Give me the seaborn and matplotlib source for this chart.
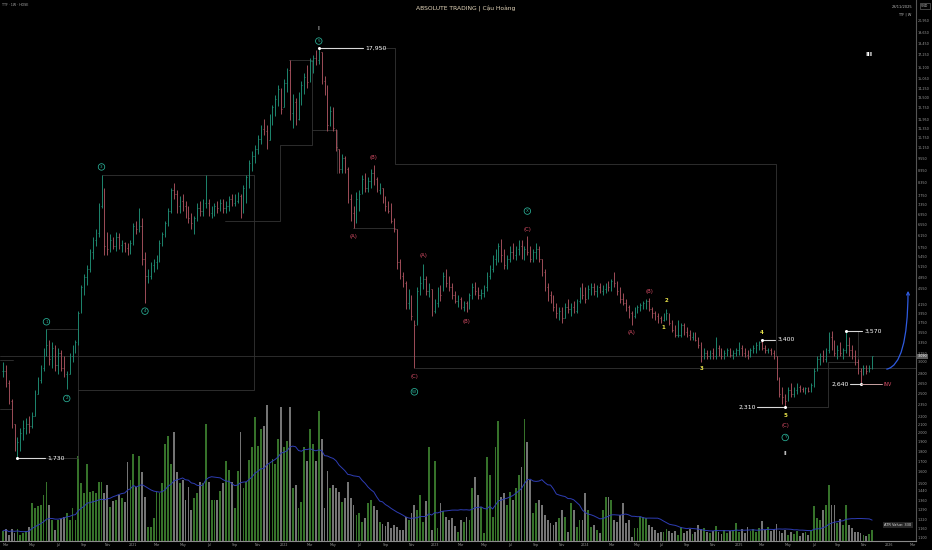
import numpy as np
import pandas as pd
import seaborn as sns
import matplotlib.pyplot as plt
import matplotlib.dates as mdates
import matplotlib.transforms as mtransforms
from matplotlib.collections import LineCollection
from matplotlib.ticker import FixedLocator, NullLocator, FuncFormatter

# ---------------------------------------------------------------------------
# Weekly TTF (HOSE) bars: 24 Feb 2020 -> 24 Nov 2025
# ---------------------------------------------------------------------------
first_week = "2020-02-24"

highs = [
    3000, 2950, 2700, 2420, 2100, 1950, 2050, 2150, 2180, 2200,
    2250, 2550, 2750, 2950, 3250, 3620, 3400, 3350, 3300, 3250,
    3200, 3100, 2850, 3150, 3300, 3400, 4000, 4650, 4950, 5200,
    5700, 6100, 6400, 7400, 8700, 8100, 6300, 6200, 6100, 6300,
    6250, 6000, 5950, 5900, 6000, 6600, 6700, 7200, 6800, 5600,
    5100, 5300, 5400, 5500, 6000, 6300, 6700, 7200, 8100, 8300,
    8000, 7700, 7800, 7500, 7300, 7000, 6900, 7400, 7500, 7600,
    8700, 7600, 7300, 7400, 7500, 7600, 7600, 7500, 7700, 7800,
    7800, 7900, 7800, 8200, 8700, 9500, 10000, 10300, 10900, 11600,
    12000, 11600, 12300, 13000, 13700, 14500, 14300, 15000, 16000, 16760,
    13800, 13500, 14000, 14900, 15600, 16300, 17000, 17250, 17700, 17950,
    17540, 15300, 14500, 12900, 12800, 11300, 10100, 9800, 9700, 9100,
    7800, 7300, 7900, 8000, 8700, 8800, 8600, 9000, 9200, 8600,
    8300, 8100, 7700, 7500, 7400, 6800, 6400, 5400, 5000, 4750,
    4550, 4400, 3800, 4600, 4900, 5240, 4900, 4700, 4550, 4300,
    4600, 4650, 5000, 5100, 4900, 4700, 4500, 4400, 4350, 4250,
    4250, 4450, 4700, 4720, 4600, 4550, 4650, 5000, 5200, 5500,
    5700, 5900, 6050, 5700, 5500, 5800, 5900, 5800, 6000, 6000,
    5800, 6140, 5800, 5700, 5900, 5800, 5400, 5100, 4700, 4500,
    4400, 4200, 4100, 4100, 4200, 4300, 4200, 4250, 4300, 4600,
    4700, 4600, 4650, 4700, 4700, 4650, 4700, 4650, 4700, 4750,
    4800, 5000, 4750, 4600, 4450, 4300, 4150, 4000, 4100, 4150,
    4200, 4250, 4300, 4310, 4100, 4000, 3950, 3900, 3950, 4050,
    3950, 3800, 3700, 3800, 3750, 3750, 3650, 3600, 3550, 3550,
    3450, 3350, 3250, 3200, 3200, 3250, 3450, 3300, 3250, 3200,
    3250, 3250, 3200, 3250, 3350, 3300, 3250, 3200, 3250, 3300,
    3350, 3380, 3400, 3300, 3250, 3250, 3200, 3100, 2750, 2600,
    2500, 2600, 2650, 2600, 2650, 2620, 2600, 2600, 2600, 2650,
    2900, 3100, 3150, 3200, 3250, 3550, 3570, 3400, 3300, 3350,
    3250, 3570, 3450, 3300, 3200, 3050, 2900, 2950, 2950, 2950,
    3090,
]

lows = [
    2750, 2600, 2350, 2050, 1800, 1730, 1800, 1920, 1980, 2000,
    2050, 2200, 2500, 2650, 2850, 3100, 2950, 2900, 2850, 2800,
    2850, 2750, 2560, 2800, 3000, 3150, 3300, 3950, 4400, 4650,
    5000, 5400, 5800, 6100, 7200, 5500, 5500, 5600, 5700, 5650,
    5700, 5600, 5600, 5500, 5550, 5850, 6200, 6300, 5200, 4190,
    4700, 4800, 5000, 5100, 5300, 5800, 6100, 6500, 7000, 7600,
    7000, 7000, 7100, 6800, 6600, 6400, 6200, 6700, 6900, 6900,
    7200, 6900, 6800, 6900, 7000, 7100, 7000, 7000, 7100, 7300,
    7300, 7400, 6800, 7000, 7400, 8100, 8900, 9300, 9800, 10400,
    10900, 10100, 10600, 11600, 12200, 12900, 12300, 12800, 14000, 11900,
    11400, 11600, 11900, 13000, 13800, 14300, 14800, 15600, 16300, 16400,
    14600, 13700, 11200, 11500, 11200, 10000, 8800, 8800, 8800, 7400,
    6700, 6420, 6600, 7100, 7800, 7900, 7900, 8100, 8200, 7900,
    7800, 7400, 7100, 7000, 6600, 6300, 5100, 4800, 4600, 4050,
    4050, 3800, 2890, 3700, 4400, 4550, 4400, 4350, 3900, 3950,
    4100, 4250, 4500, 4600, 4500, 4300, 4200, 4100, 4050, 4000,
    3980, 4050, 4300, 4400, 4300, 4300, 4350, 4500, 4800, 5000,
    5200, 5300, 5300, 5100, 5100, 5300, 5400, 5350, 5500, 5400,
    5350, 5500, 5300, 5300, 5400, 5300, 4900, 4500, 4250, 4200,
    4000, 3850, 3800, 3750, 3850, 3950, 3900, 3950, 3950, 4200,
    4300, 4200, 4300, 4400, 4400, 4350, 4450, 4400, 4450, 4500,
    4500, 4600, 4400, 4200, 4150, 4000, 3850, 3700, 3850, 3950,
    4000, 4050, 4050, 4000, 3850, 3800, 3750, 3750, 3780, 3800,
    3700, 3550, 3450, 3450, 3450, 3500, 3450, 3400, 3400, 3380,
    3250, 3000, 3050, 3050, 3050, 3050, 3050, 3100, 3050, 3050,
    3100, 3080, 3050, 3100, 3120, 3100, 3080, 3050, 3080, 3150,
    3150, 3200, 3200, 3150, 3150, 3120, 3050, 2700, 2450, 2350,
    2310, 2400, 2450, 2450, 2500, 2520, 2520, 2500, 2520, 2520,
    2600, 2850, 2950, 3000, 3000, 3150, 3200, 3100, 3050, 3100,
    3050, 3150, 3100, 3050, 2950, 2800, 2640, 2780, 2800, 2820,
    2880,
]

closes = [
    2850, 2650, 2400, 2100, 1850, 1900, 2000, 2050, 2100, 2080,
    2200, 2500, 2700, 2900, 3200, 3300, 3050, 3250, 2950, 3150,
    2900, 2800, 2800, 3100, 3250, 3350, 3950, 4600, 4850, 5100,
    5600, 6000, 6250, 7300, 8000, 5800, 5700, 6000, 5800, 6100,
    5850, 5900, 5750, 5650, 5900, 6500, 6400, 6500, 5400, 4900,
    4900, 5200, 5300, 5400, 5900, 6200, 6600, 7100, 8000, 7800,
    7300, 7500, 7300, 7000, 6800, 6600, 6800, 7200, 7100, 7400,
    7400, 7000, 7100, 7300, 7200, 7400, 7200, 7300, 7600, 7400,
    7500, 7700, 7600, 8100, 8600, 9300, 9700, 10100, 10700, 11300,
    11200, 10500, 12100, 12800, 13400, 14200, 12700, 14700, 15800, 12400,
    13200, 12000, 13700, 14500, 15200, 14800, 16700, 17000, 16800, 17500,
    14900, 14200, 11600, 12500, 11400, 10200, 9000, 9600, 9000, 7600,
    7000, 6600, 7600, 7800, 8500, 8100, 8400, 8800, 8500, 8000,
    8100, 7600, 7300, 7100, 6700, 6400, 5300, 4900, 4700, 4200,
    4400, 3900, 3700, 4500, 4700, 4800, 4500, 4600, 4000, 4200,
    4500, 4400, 4900, 4700, 4600, 4400, 4250, 4300, 4100, 4200,
    4100, 4400, 4600, 4500, 4400, 4450, 4600, 4900, 5100, 5400,
    5400, 5800, 5500, 5200, 5400, 5600, 5500, 5700, 5800, 5500,
    5700, 5600, 5400, 5600, 5700, 5400, 5000, 4600, 4400, 4300,
    4100, 3950, 4000, 3850, 4100, 4050, 4100, 4000, 4250, 4500,
    4400, 4300, 4550, 4600, 4500, 4600, 4500, 4550, 4650, 4600,
    4750, 4700, 4500, 4300, 4200, 4100, 3950, 3900, 4000, 4100,
    4150, 4200, 4250, 4050, 3950, 3900, 3850, 3800, 3850, 3950,
    3750, 3600, 3500, 3500, 3700, 3550, 3500, 3450, 3500, 3400,
    3300, 3100, 3150, 3100, 3150, 3100, 3250, 3150, 3100, 3150,
    3200, 3120, 3150, 3200, 3250, 3150, 3120, 3100, 3200, 3250,
    3300, 3350, 3250, 3200, 3200, 3150, 3100, 2750, 2500, 2450,
    2400, 2550, 2500, 2550, 2600, 2560, 2550, 2580, 2540, 2620,
    2850, 3050, 3100, 3050, 3200, 3450, 3300, 3150, 3200, 3150,
    3200, 3300, 3200, 3100, 3000, 2850, 2800, 2900, 2850, 2900,
    3090,
]

# weekly volume (relative units, read as bar heights)
volume = [
    10, 12, 6, 12, 8, 12, 6, 8, 10, 14,
    38, 33, 35, 36, 46, 59, 36, 21, 11, 21,
    22, 24, 28, 21, 33, 21, 84, 58, 48, 76,
    49, 50, 48, 59, 59, 48, 56, 34, 40, 41,
    46, 43, 39, 78, 61, 86, 54, 84, 68, 44,
    14, 14, 23, 49, 48, 58, 96, 104, 76, 108,
    68, 58, 61, 41, 54, 31, 43, 48, 59, 58,
    116, 59, 41, 41, 41, 50, 58, 79, 70, 59,
    33, 69, 108, 53, 59, 80, 93, 123, 94, 111,
    114, 135, 76, 81, 76, 101, 133, 93, 99, 133,
    53, 56, 33, 39, 93, 79, 111, 96, 79, 129,
    101, 33, 69, 53, 56, 53, 49, 39, 43, 59,
    43, 36, 26, 28, 19, 23, 38, 41, 35, 31,
    19, 17, 15, 19, 13, 16, 14, 11, 11, 24,
    21, 28, 36, 31, 46, 19, 40, 93, 11, 79,
    13, 38, 30, 24, 21, 23, 15, 9, 21, 19,
    24, 21, 53, 64, 46, 34, 8, 83, 66, 24,
    93, 119, 44, 48, 36, 49, 41, 53, 66, 73,
    121, 98, 61, 28, 38, 41, 36, 26, 21, 18,
    16, 19, 23, 31, 24, 9, 38, 31, 14, 21,
    21, 48, 31, 14, 16, 11, 8, 31, 44, 44,
    41, 21, 19, 26, 38, 18, 21, 4, 13, 13,
    24, 24, 23, 16, 14, 11, 8, 9, 9, 12,
    10, 8, 10, 6, 14, 8, 10, 12, 7, 9,
    16, 12, 13, 9, 8, 10, 15, 9, 7, 11,
    8, 10, 11, 18, 9, 12, 8, 14, 10, 12,
    9, 13, 20, 11, 14, 10, 12, 17, 10, 8,
    11, 6, 9, 7, 10, 5, 8, 9, 6, 11,
    35, 23, 21, 31, 36, 56, 36, 36, 18, 22,
    16, 36, 16, 13, 9, 9, 8, 6, 5, 7,
    11,
]

# price scale labels on the right
price_ticks = [20950, 19650, 18450, 17250, 16100, 15050, 14250, 13500, 12750,
               11950, 11350, 10750, 10150, 9550, 8950, 8350, 7750, 7350, 6950,
               6550, 6150, 5750, 5450, 5150, 4850, 4550, 4150, 3950, 3750, 3550,
               3350, 3150, 3000, 2800, 2650, 2500, 2350, 2200, 2100, 2000, 1900,
               1800, 1700, 1600, 1500, 1440, 1360, 1290, 1220, 1160, 1100]

# grey step levels drawn on the chart: (week index, price) vertices
step_levels = [
    [(-1, 3020), (3.5, 3020)],
    [(-1, 2290), (3.1, 2290)],
    [(14.8, 3614), (25.9, 3614), (25.9, 1730), (14.5, 1730)],
    [(25.9, 2551), (86.6, 2551), (86.6, 8700), (34, 8700)],
    [(76.6, 6690), (95.6, 6690), (95.6, 10320), (106.7, 10320),
     (106.7, 16760), (98.6, 16760)],
    [(106.7, 11250), (115.3, 11250), (115.3, 8800)],
    [(130, 17950), (135.3, 17950), (135.3, 9260), (266.8, 9260), (266.8, 3090)],
    [(120.8, 6420), (135.3, 6420)],
    [(142.2, 2890), (320, 2890)],
    [(270.3, 2310), (284.8, 2310), (284.8, 2990), (295.1, 2990), (295.1, 3570)],
]

assert len(highs) == len(lows) == len(closes) == len(volume) == 301

# ---------------------------------------------------------------------------
# Frame
# ---------------------------------------------------------------------------
df = pd.DataFrame({"high": highs, "low": lows, "close": closes, "volume": volume})
df["week"] = pd.date_range(first_week, periods=len(df), freq="7D")
df["open"] = df["close"].shift(1).fillna(df["close"]).clip(df["low"], df["high"])
df["up"] = df["close"] >= df["open"]
df["vol_ma"] = df["volume"].rolling(20, min_periods=1).mean()

xnum = mdates.date2num(df["week"])
x0 = xnum[0]


def bx(i):
    return x0 + 7 * i


sns.set_theme(style="dark", rc={"axes.facecolor": "black",
                                "figure.facecolor": "black",
                                "savefig.facecolor": "black",
                                "axes.grid": False})
plt.rcParams["font.family"] = ["DejaVu Sans"]

UP, DOWN = "#1f8f75", "#a9525e"
VOL_UP, VOL_DOWN = "#36722a", "#747474"
TEAL, RED, YELLOW = "#2bb39a", "#e0506a", "#e8e24a"
STEP = "#343434"

fig = plt.figure(figsize=(9.32, 5.5), dpi=100)
pos = [0, 9 / 550, 916 / 932, 541 / 550]
ax_v = fig.add_axes(pos)
ax = fig.add_axes(pos, sharex=ax_v)
ax.patch.set_visible(False)

# --- volume pane (overlay) ---
ax_v.bar(xnum, df["volume"], width=4.4, linewidth=0,
         color=np.where(df["up"], VOL_UP, VOL_DOWN))
sns.lineplot(x=xnum, y=df["vol_ma"].values, ax=ax_v, color="#2e3db5", lw=0.7)
ax_v.set_ylim(0, df["volume"].max() * 541 / 136)
ax_v.set_yticks([])
ax_v.set_xlabel("")
ax_v.set_ylabel("")
ax_v.tick_params(labelbottom=False, length=0)
for s in ax_v.spines.values():
    s.set_visible(False)

# --- price pane ---
ax.set_yscale("log")
ax.set_ylim(1078.5, 23605)
ax.set_xlim(x0 - 7.25, x0 + 2206)

for pl in step_levels:
    ax.plot([bx(i) for i, _ in pl], [p for _, p in pl], color=STEP, lw=0.6, zorder=1)
ax.axhline(closes[-1], color="#333333", lw=0.6, zorder=1)

cols = np.where(df["up"], UP, DOWN)
ax.vlines(xnum, df["low"], df["high"], colors=cols, lw=0.65, zorder=3)
open_ticks = [[(x - 1.4, o), (x, o)] for x, o in zip(xnum, df["open"])]
close_ticks = [[(x, c), (x + 1.4, c)] for x, c in zip(xnum, df["close"])]
ax.add_collection(LineCollection(open_ticks, colors=cols, lw=0.6, zorder=3))
ax.add_collection(LineCollection(close_ticks, colors=cols, lw=0.6, zorder=3))

# axes cosmetics
for side in ("top", "left"):
    ax.spines[side].set_visible(False)
ax.spines["right"].set_color("#555555")
ax.spines["right"].set_linewidth(0.8)
ax.spines["bottom"].set_color("#8a8a8a")
ax.spines["bottom"].set_linewidth(0.8)

ax.yaxis.tick_right()
ax.yaxis.set_major_locator(FixedLocator(price_ticks))
ax.yaxis.set_minor_locator(NullLocator())
ax.yaxis.set_major_formatter(FuncFormatter(lambda v, _: f"{v:,.0f}"))
ax.tick_params(axis="y", length=0, labelsize=2.4, pad=1.5, labelcolor="#9a9a9a")

calendar = pd.date_range(first_week, "2026-03-09", freq="7D")
firsts = pd.Series(calendar).groupby([calendar.year, calendar.month]).first()
firsts = firsts[firsts.dt.month.isin([1, 3, 5, 7, 9, 11])]
ax.set_xticks(mdates.date2num(firsts))
ax.set_xticklabels([str(d.year) if d.month == 1 else d.strftime("%b") for d in firsts])
ax.tick_params(axis="x", length=0, labelsize=2.3, pad=1.6, labelcolor="#9a9a9a")
ax.set_xlabel("")
ax.set_ylabel("")


# ---------------------------------------------------------------------------
# Elliott wave labels
# ---------------------------------------------------------------------------
def circled(i, price, label, dy):
    ax.annotate(label, (bx(i), price), xytext=(0, dy), textcoords="offset points",
                ha="center", va="center", fontsize=3.0, color=TEAL, zorder=6,
                bbox=dict(boxstyle="circle,pad=0.3", fc="black", ec=TEAL, lw=0.55))


def mark(i, price, label, dy, color, size=3.8, weight="normal"):
    ax.annotate(label, (bx(i), price), xytext=(0, dy), textcoords="offset points",
                ha="center", va="center", fontsize=size, color=color,
                fontweight=weight, zorder=6)


circled(15, highs[15], "1", 5)
circled(22, lows[22], "2", -6.5)
circled(34, highs[34], "3", 5.8)
circled(49, lows[49], "4", -5.8)
circled(109, highs[109], "5", 5)
mark(109, highs[109], "I", 13.7, "white", 4.6)

mark(121, lows[121], "(A)", -5.8, RED)
mark(128, highs[128], "(B)", 5.8, RED)
mark(142, lows[142], "(C)", -5.8, RED)
circled(142, lows[142], "W", -17)
mark(145, highs[145], "(A)", 5.8, RED)
mark(160, lows[160], "(B)", -6.5, RED)
mark(181, highs[181], "(C)", 5, RED)
circled(181, highs[181], "X", 18)
mark(217, lows[217], "(A)", -5.8, RED)
mark(223, highs[223], "(B)", 5, RED)

mark(228, lows[228], "1", -4.5, YELLOW, 4.0, "bold")
mark(229, highs[229], "2", 5.8, YELLOW, 4.0, "bold")
mark(241, lows[241], "3", -5, YELLOW, 4.0, "bold")
mark(262, highs[262], "4", 5, YELLOW, 4.0, "bold")
mark(270, lows[270], "5", -5.8, YELLOW, 4.0, "bold")
mark(270, lows[270], "(C)", -13, RED)
circled(270, lows[270], "Y", -21.6)
mark(270, lows[270], "II", -33, "white", 4.6)
ax.text(bx(299), 17250, "III", ha="center", va="center", fontsize=4.6,
        color="white", fontweight="bold")


# ---------------------------------------------------------------------------
# Price tags
# ---------------------------------------------------------------------------
def tag(i_from, i_to, price, text_i, ha):
    ax.plot([bx(i_from), bx(i_to)], [price, price], color="#d8d8d8", lw=0.8, zorder=5)
    ax.plot(bx(i_from if ha == "left" else i_to), price, "o", ms=1.2, color="white", zorder=5)
    ax.text(bx(text_i), price, f"{price:,}", ha=ha, va="center", fontsize=4.4,
            color="white", zorder=6)


tag(109, 124.3, highs[109], 125, "left")
tag(5, 14.5, lows[5], 15.2, "left")
tag(262, 266.5, highs[262], 267.2, "left")
tag(260.3, 270, lows[270], 260, "right")
tag(291, 296.5, highs[291], 297.4, "left")
tag(292.3, 296, lows[296], 292, "right")
ax.plot([bx(296), bx(303.4)], [lows[296], lows[296]], color="#c9a3a3", lw=0.7, zorder=5)
ax.text(bx(304), lows[296], "INV", ha="left", va="center", fontsize=3.4, color=RED)

# projected move
ax.annotate("", xy=(bx(312.4), 4565), xytext=(bx(304.1), 2870),
            arrowprops=dict(arrowstyle="->", color="#2f5be0", lw=0.9, mutation_scale=5,
                            connectionstyle="angle3,angleA=0,angleB=90"), zorder=6)

# last price on the scale
blend = mtransforms.blended_transform_factory(ax.transAxes, ax.transData)
ax.text(1.002, closes[-1], f"{closes[-1]:,}", transform=blend, ha="left", va="center",
        fontsize=2.4, color="white", clip_on=False,
        bbox=dict(boxstyle="square,pad=0.25", fc="#5c5c5c", ec="none"))

# ---------------------------------------------------------------------------
# Header / footer texts
# ---------------------------------------------------------------------------
fig.text(466 / 932, 1 - 9 / 550, "ABSOLUTE TRADING | Cậu Hoàng", ha="center",
         va="center", fontsize=4.3, color="#e6d8bd")
fig.text(2 / 932, 1 - 5 / 550, "TTF · 1W · HOSE", ha="left", va="center",
         fontsize=2.3, color="#aaaaaa")
fig.text(912 / 932, 1 - 7 / 550, "28/11/2025", ha="right", va="center",
         fontsize=2.6, color="#bbbbbb")
fig.text(911 / 932, 1 - 15 / 550, "TTF | W", ha="right", va="center",
         fontsize=2.6, color="#bbbbbb")
fig.text(925 / 932, 1 - 6 / 550, "VND", ha="center", va="center", fontsize=2.3,
         color="#cccccc",
         bbox=dict(boxstyle="square,pad=0.3", fc="black", ec="#777777", lw=0.4))
fig.text(898 / 932, 1 - 525 / 550, "ATR Value: 330", ha="center", va="center",
         fontsize=2.6, color="#dddddd",
         bbox=dict(boxstyle="square,pad=0.35", fc="#262626", ec="none"))

fig.savefig("out.png", dpi=100, facecolor="black")
